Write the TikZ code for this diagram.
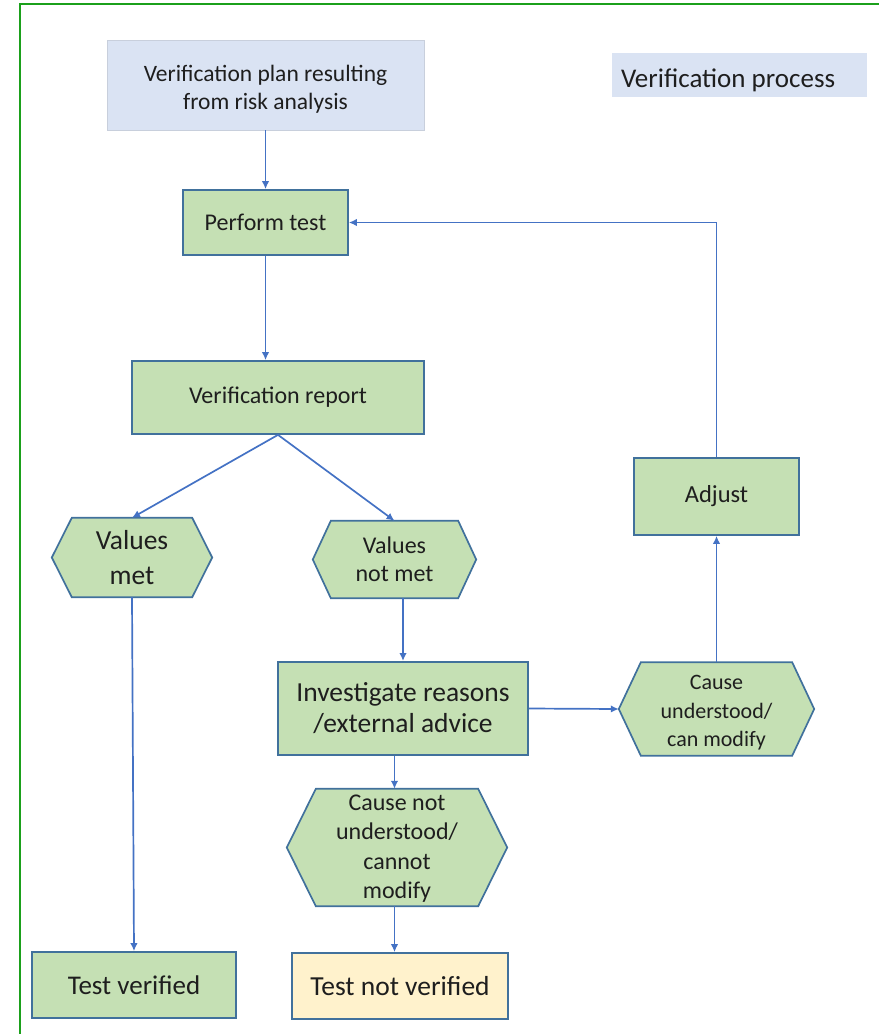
\documentclass[tikz,border=0pt]{standalone}
\usepackage{fontspec}
\setmainfont{Carlito}
\usetikzlibrary{arrows.meta,backgrounds,calc}

\definecolor{frame}{HTML}{1BA01B}
\definecolor{link}{HTML}{4472C4}
\definecolor{edge}{HTML}{41719C}
\definecolor{leaf}{HTML}{C5E0B4}
\definecolor{sky}{HTML}{DAE3F3}
\definecolor{cream}{HTML}{FFF2CC}
\definecolor{ink}{HTML}{1E1E1E}

\tikzset{
  box/.style={draw=edge, line width=1.7pt, fill=leaf, text=ink, align=center,
              inner sep=0pt, rectangle},
  hexnode/.style={rectangle, inner sep=0pt, text=ink, align=center},
  hexfill/.style={draw=edge, line width=1.7pt, fill=leaf, line join=miter},
  link/.style={draw=link, line width=1.7pt, -{Latex[length=8pt,width=7.5pt]}},
  caption/.style={text=ink, align=center, inner sep=0pt},
}

% flat-topped hexagon drawn round a rectangular node
\newcommand{\hexround}[2]{%
  \path[hexfill] (#1.west) -- ($(#1.north west)+(#2,0)$) -- ($(#1.north east)-(#2,0)$)
    -- (#1.east) -- ($(#1.south east)-(#2,0)$) -- ($(#1.south west)+(#2,0)$) -- cycle;}

\begin{document}
\begin{tikzpicture}[x=1pt,y=-1pt]
\useasboundingbox (0,0) rectangle (879,1034);

% frame lines
\draw[frame, line width=1.6pt] (20,1034) -- (20,4) -- (879,4);

% heading boxes
\node[rectangle, fill=sky, draw=sky!80!gray, line width=0.6pt, minimum width=317pt, minimum height=90pt,
      label={[caption, yshift=-4pt, font=\fontsize{23.5}{28.5}\selectfont]center:Verification plan resulting\\from risk analysis}]
      (plan) at (265.5,85) {};
\node[rectangle, fill=sky, minimum width=255pt, minimum height=44pt,
      label={[caption, anchor=west, yshift=-5pt, font=\fontsize{27}{32}\selectfont]west:\hspace*{9pt}Verification process}]
      (proc) at (739.5,75) {};

% rectangular steps
\node[box, minimum width=165pt, minimum height=65pt, font=\fontsize{24}{28}\selectfont] (perform) at (265.5,222.5) {Perform test};
\node[box, minimum width=292pt, minimum height=73pt, font=\fontsize{24}{28}\selectfont] (report) at (278,397.5) {Verification report};
\node[box, line width=2pt, minimum width=250pt, minimum height=93pt, font=\fontsize{27.5}{31}\selectfont] (invest) at (403,708.5) {Investigate reasons\\/external advice};
\node[box, minimum width=165pt, minimum height=77pt, font=\fontsize{24.5}{28}\selectfont] (adjust) at (716.5,496.5) {Adjust};
\node[box, minimum width=204pt, minimum height=66pt, font=\fontsize{27}{32}\selectfont] (tv) at (134,985) {Test verified};
\node[box, fill=cream, minimum width=216pt, minimum height=66pt, font=\fontsize{27.5}{32}\selectfont] (tnv) at (400,986) {Test not verified};

% decision hexagons
\node[hexnode, minimum width=160pt, minimum height=79pt, font=\fontsize{27.5}{35}\selectfont] (vmet) at (132,557.5) {Values\\met};
\node[hexnode, minimum width=163pt, minimum height=77pt, font=\fontsize{24}{28}\selectfont] (vnot) at (394.5,559.5) {Values\\not met};
\node[hexnode, minimum width=195pt, minimum height=93pt,
      label={[caption, yshift=-4pt, font=\fontsize{22}{28.5}\selectfont]center:Cause\\understood/\\can modify}]
      (cu) at (716.5,709) {};
\node[hexnode, minimum width=220pt, minimum height=117pt,
      label={[caption, yshift=-1pt, font=\fontsize{24}{29.5}\selectfont]center:Cause not\\understood/\\cannot\\modify}]
      (cnu) at (397,847.5) {};

\begin{scope}[on background layer]
  \hexround{vmet}{20pt}
  \hexround{vnot}{18pt}
  \hexround{cu}{22pt}
  \hexround{cnu}{29pt}
\end{scope}

% connectors
\draw[link] (plan.south) -- (perform.north);
\draw[link] (perform.south) -- (perform.south |- report.north);
\draw[link] (report.south) -- (vmet.north);
\draw[link] (report.south) -- (vnot.north);
\draw[link] (vmet.south) -- (tv.north);
\draw[link] (invest.north |- vnot.south) -- (invest.north);
\draw[link] (invest.east) -- (cu.west);
\draw[link] ([xshift=-2.5pt]cnu.north |- invest.south) -- ([xshift=-2.5pt]cnu.north);
\draw[link] ([xshift=-2.5pt]cnu.south) -- ([xshift=-2.5pt]cnu.south |- tnv.north);
\draw[link] (cu.north) -- (adjust.south);
\draw[link] (adjust.north) |- (perform.east);
\end{tikzpicture}
\end{document}
